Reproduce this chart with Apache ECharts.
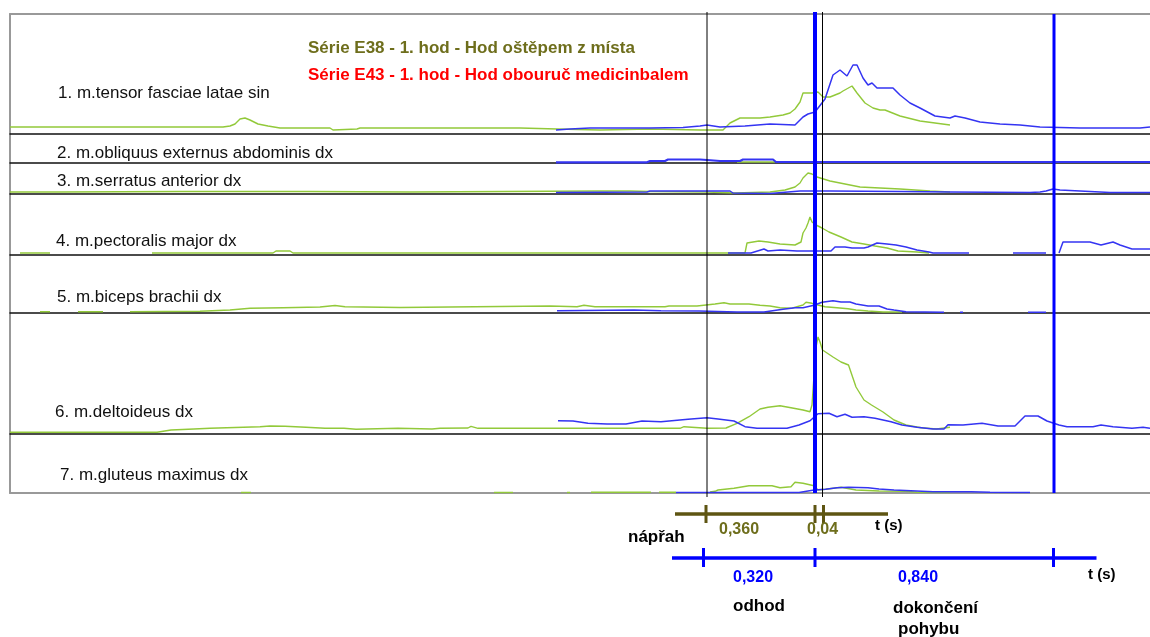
<!DOCTYPE html>
<html>
<head>
<meta charset="utf-8">
<title>EMG - Série E38 / E43</title>
<script src="https://cdn.jsdelivr.net/npm/echarts@6/dist/echarts.min.js"></script>
<style>
  html, body { margin: 0; padding: 0; background: #fff; }
  #graf { width: 1150px; height: 637px; }
</style>
</head>
<body>
<div id="graf"></div>
<script>
// popisky svalů (7 panelů shora dolů)
const svaly = [
  "1. m.tensor fasciae latae sin",
  "2. m.obliquus externus abdominis dx",
  "3. m.serratus anterior dx",
  "4. m.pectoralis major dx",
  "5. m.biceps brachii dx",
  "6. m.deltoideus dx",
  "7. m.gluteus maximus dx"
];

// Série E38 - hod oštěpem z místa (zelená), [vzorek, amplituda]
const e38_1 = [[0,7],[50,7],[100,7],[165,7],[213,7],[220,8],[225,10],[230,15],[235,16],[240,14],[248,10],[258,8],[270,6],[320,6],[323,4],[347,5],[350,6],[440,6],[510,6],[547,5],[590,4],[640,5],[690,4],[713,4],[720,11],[730,16],[750,16],[760,17],[773,19],[780,21],[785,25],[790,32],[793,41],[802,41],[808,42],[813,37],[820,37],[830,41],[833,43],[842,48],[847,41],[855,31],[863,26],[870,24],[875,24],[890,18],[910,13],[925,11],[940,9]];
const e38_2 = [[727,1],[765,1],[766,null],[805,1.3],[860,1.3]];
const e38_3 = [[0,2],[50,2],[170,2.5],[300,2.5],[400,2],[587,3],[620,3],[640,2.5],[697,2],[725,1],[760,2],[775,4],[785,7],[790,11],[793,16],[798,21],[802,20],[807,17],[820,13],[835,10],[850,7],[870,6],[890,5],[905,4],[920,3],[940,2]];
const e38_4 = [[10,2],[40,2],[41,null],[142,2],[263,2],[266,4],[280,4],[283,2],[718,2],[735,2],[737,12],[743,13],[749,14],[758,13],[770,11],[785,10],[791,13],[793,22],[796,27],[798,32],[800,38],[802,33],[806,30],[812,27],[819,23],[831,18],[842,13],[854,11],[865,9],[877,7],[888,4],[907,3],[919,2]];
const e38_5 = [[30,1.3],[40,1.3],[41,null],[68,1.3],[93,1.3],[94,null],[120,1.3],[190,1.7],[220,3],[240,4.7],[273,5.3],[310,6],[325,7.5],[335,6.3],[390,5.5],[540,7],[567,6.3],[574,7.7],[585,6.3],[655,6.3],[659,7],[687,7],[705,9],[714,10.3],[720,9],[739,9],[750,7.7],[760,7],[770,5.3],[781,4.7],[793,8],[796,10.7],[802,9.7],[808,8],[815,6.3],[827,5.3],[838,4.3],[846,3],[858,2],[873,1],[892,1]];
const e38_6 = [[0,1.7],[147,1.7],[149,3.3],[161,4],[184,5],[200,5.7],[250,7.3],[260,8],[275,7.7],[296,6.7],[315,5.7],[334,5.7],[346,4.7],[388,5.7],[422,5],[430,5.7],[458,6],[461,7.7],[468,5.7],[540,5.7],[670,5.7],[674,7.3],[697,5.7],[716,6],[727,10.7],[739,17.3],[750,25],[758,26.7],[770,28.3],[781,26.3],[793,24],[800,22.3],[802,29],[806,87],[808,97],[810,92],[812.5,84],[815.5,82],[823,77],[831,72],[838.5,69],[846,47],[854,34],[861.5,29],[873,22],[884,14],[896,9],[911,6.3],[926.5,5],[940,6.7]];
const e38_7 = [[231,0.5],[241,0.5],[242,null],[484,0.5],[503,0.5],[504,null],[557,0.5],[560,0.5],[561,null],[581,0.8],[641,0.8],[642,null],[649,0.8],[666,0.8],[667,null],[700,1],[705,1.7],[708,3],[724,4.7],[739,7.3],[762,7.3],[770,5.3],[781,6.3],[785,10.7],[793,9.7],[804,7.3],[808,3],[815.5,3.7],[831,5.7],[846,3],[869,2],[896,1.7],[907,0.7],[940,0.5]];

// Série E43 - hod obouruč medicinbalem (modrá)
const e43_1 = [[546,4],[560,5],[580,6],[640,6],[673,6.5],[690,8],[697,9],[710,7],[735,8],[760,10],[785,9],[793,17],[798,20],[805,22],[815,35],[823,59],[830,64],[832,62],[837,58],[843,69],[847,69],[853,56],[858,49],[862,51],[867,46],[876,46],[883,46],[890,39],[900,31],[910,26],[925,18],[940,16],[945,18],[955,16],[970,12],[990,10],[1010,9],[1030,7],[1070,6],[1130,6],[1140,7]];
const e43_2 = [[546,0.7],[637,0.7],[640,2],[655,2],[658,3.5],[690,3.5],[697,3],[710,2],[730,2],[733,3.5],[763,3.5],[766,1],[1140,1]];
const e43_3 = [[546,1.5],[637,2],[640,3],[720,3],[723,1],[760,0.5],[790,3],[820,3],[890,2.5],[940,2],[1020,1.5],[1030,2],[1036,3],[1043,5],[1050,4],[1060,3.5],[1090,2],[1100,1.5],[1140,1.5]];
const e43_4 = [[718,2],[741,2],[743,4],[754,6],[758,4],[770,5],[787,4],[789,6],[804,4],[821,4],[825,8],[835,8],[842,7],[854,7],[858,8],[867,12],[877,11],[886,10],[896,8],[907,5],[919,3],[923,2],[959,2],[960,null],[1003,2],[1036,2],[1037,null],[1049,2],[1053,13],[1080,13],[1091,10],[1103,13],[1110,10],[1122,6],[1140,6]];
const e43_5 = [[547,2.3],[624,3],[651,2.3],[689,2],[727,1],[754,1],[773,3.7],[785,5.3],[793,5.3],[804,7.7],[812,10.7],[823,12.3],[831,11],[840,11],[846,9],[858,7],[869,7],[877,4],[884,3],[896,1.3],[934,0.7],[935,null],[950,0.7],[953,0.7],[954,null],[1018,0.7],[1036,0.7]];
const e43_6 = [[548,13.3],[563,13],[578,10.7],[597,10],[616,10],[632,13],[651,12.3],[678,14.7],[697,16.3],[708,15],[724,13],[735,7.3],[747,5.7],[777,5.7],[789,9],[800,13.3],[808,20.3],[819,20.7],[827,17.3],[835,19.7],[842,16.7],[854,17.3],[865,15.7],[881,12.3],[892,9],[907,6.7],[923,5],[934,5],[938,9.3],[953,9],[972,10.7],[988,8],[1005,8],[1015,18],[1028,18],[1037,13],[1049,9],[1057,7.3],[1083,7.3],[1091,9],[1103,7.3],[1122,5.7],[1133,6.7],[1140,5.7]];
const e43_7 = [[666,0.5],[770,0.5],[789,0.5],[804,3],[815.5,3.7],[827,5.3],[838.5,5.7],[858,5.3],[869,4],[884,3],[923,1.3],[961,1.3],[980,0.7],[1020,0.5]];

// hranice fází (vzorky) - svislé čáry
const hranice_E38 = [697, 812.5];
const hranice_E43 = [805, 1044];

// časové osy pod grafem
const osa_E38 = [665, 878];
const znacky_E38 = [696, 805, 813.5];
const osa_E43 = [662, 1086.5];
const znacky_E43 = [693.5, 805, 1043.5];
const useky_E38 = ["0,360", "0,04"];
const useky_E43 = ["0,320", "0,840"];

const e38 = [e38_1, e38_2, e38_3, e38_4, e38_5, e38_6, e38_7];
const e43 = [e43_1, e43_2, e43_3, e43_4, e43_5, e43_6, e43_7];

// rozložení panelů [top, výška]
const panely = [[14,120],[134,29],[163,31],[194,61],[255,58],[313,121],[434,59]];

const zelena = "#92c93a";
const modra = "#3434f2";
const olivova = "#6e6e1c";
const hneda = "#5e5512";
const PISMO = "Liberation Sans, Arial, sans-serif";

let myChart = echarts.init(document.getElementById("graf"));

let grid = [], xAxis = [], yAxis = [], series = [];
const skryt = { axisTick: { show: false }, axisLabel: { show: false }, splitLine: { show: false } };

panely.forEach((p, i) => {
  grid.push({ left: 10, width: 1140, top: p[0], height: p[1] });
  xAxis.push(Object.assign({
    type: "value", gridIndex: i, min: 0, max: 1140,
    axisLine: { show: true, onZero: false, lineStyle: { color: i == 6 ? "#999" : "#111", width: i == 6 ? 2 : 1.5 } }
  }, skryt));
  yAxis.push(Object.assign({
    type: "value", gridIndex: i, min: 0, max: p[1],
    axisLine: { show: true, lineStyle: { color: "#999", width: 2 } }
  }, skryt));
  series.push({
    type: "line", xAxisIndex: i, yAxisIndex: i, data: e38[i],
    showSymbol: false, z: 3, lineStyle: { color: zelena, width: 1.4 }, itemStyle: { color: zelena }
  });
  series.push({
    type: "line", xAxisIndex: i, yAxisIndex: i, data: e43[i],
    showSymbol: false, z: 4, lineStyle: { color: modra, width: i == 1 ? 2.2 : 1.5 }, itemStyle: { color: modra }
  });
});

// horní okraj rámu
xAxis.push(Object.assign({
  type: "value", gridIndex: 0, position: "top", min: 0, max: 1140,
  axisLine: { show: true, onZero: false, lineStyle: { color: "#999", width: 2 } }
}, skryt));

// překryvná mřížka pro svislé čáry (hodnota = výška nad spodním okrajem)
grid.push({ left: 10, width: 1140, top: 12, height: 485 });
let gx = xAxis.length, gy = yAxis.length;
xAxis.push(Object.assign({ type: "value", gridIndex: 7, min: 0, max: 1140, axisLine: { show: false } }, skryt));
yAxis.push(Object.assign({ type: "value", gridIndex: 7, min: 0, max: 485, axisLine: { show: false } }, skryt));
hranice_E38.forEach(x => {
  series.push({ type: "line", xAxisIndex: gx, yAxisIndex: gy, data: [[x, 0], [x, 485]], showSymbol: false, z: 6,
    lineStyle: { color: "#000", width: 1 } });
});
hranice_E43.forEach((x, k) => {
  series.push({ type: "line", xAxisIndex: gx, yAxisIndex: gy, data: [[x, 4], [x, k == 0 ? 485 : 483]], showSymbol: false, z: 7,
    lineStyle: { color: "#0000ff", width: k == 0 ? 4 : 3 } });
});

// časové osy (hodnota = vzdálenost od horního okraje mřížky)
grid.push({ left: 10, width: 1140, top: 497, height: 140 });
let tx = xAxis.length, ty = yAxis.length;
xAxis.push(Object.assign({ type: "value", gridIndex: 8, min: 0, max: 1140, axisLine: { show: false } }, skryt));
yAxis.push(Object.assign({ type: "value", gridIndex: 8, min: 0, max: 140, inverse: true, axisLine: { show: false } }, skryt));
series.push({ type: "line", xAxisIndex: tx, yAxisIndex: ty, data: osa_E38.map(x => [x, 17]), showSymbol: false,
  lineStyle: { color: hneda, width: 3.5 } });
znacky_E38.forEach(x => {
  series.push({ type: "line", xAxisIndex: tx, yAxisIndex: ty, data: [[x, 8], [x, 26]], showSymbol: false,
    lineStyle: { color: hneda, width: 3 } });
});
series.push({ type: "line", xAxisIndex: tx, yAxisIndex: ty, data: osa_E43.map(x => [x, 61]), showSymbol: false,
  lineStyle: { color: "#0000ff", width: 3.5 } });
znacky_E43.forEach(x => {
  series.push({ type: "line", xAxisIndex: tx, yAxisIndex: ty, data: [[x, 51], [x, 70]], showSymbol: false,
    lineStyle: { color: "#0000ff", width: 3 } });
});

function text(t, x, y, font, fill) {
  return { type: "text", x: x, y: y, z: 100,
    style: { text: t, font: font, fill: fill, verticalAlign: "middle" } };
}

const popiskyXY = [[58,93],[57,153],[57,181],[56,241],[57,297],[55,412],[60,475]];
let graphic = svaly.map((s, i) => text(s, popiskyXY[i][0], popiskyXY[i][1], "17px " + PISMO, "#111"));

graphic.push(text("Série E38 - 1. hod - Hod oštěpem z místa", 308, 48, "bold 17px " + PISMO, olivova));
graphic.push(text("Série E43 - 1. hod - Hod obouruč medicinbalem", 308, 75, "bold 17px " + PISMO, "#ff0000"));

graphic.push(text(useky_E38[0], 719, 530, "bold 16px " + PISMO, olivova));
graphic.push(text(useky_E38[1], 807, 530, "bold 16px " + PISMO, olivova));
graphic.push(text("t (s)", 875, 526, "bold 15px " + PISMO, "#000"));
graphic.push(text("nápřah", 628, 537, "bold 17px " + PISMO, "#000"));
graphic.push(text(useky_E43[0], 733, 578, "bold 16px " + PISMO, "#0000ff"));
graphic.push(text(useky_E43[1], 898, 578, "bold 16px " + PISMO, "#0000ff"));
graphic.push(text("t (s)", 1088, 575, "bold 15px " + PISMO, "#000"));
graphic.push(text("odhod", 733, 606, "bold 17px " + PISMO, "#000"));
graphic.push(text("dokončení", 893, 608, "bold 17px " + PISMO, "#000"));
graphic.push(text("pohybu", 898, 629, "bold 17px " + PISMO, "#000"));

let option = {
  animation: false,
  backgroundColor: "#fff",
  grid: grid,
  xAxis: xAxis,
  yAxis: yAxis,
  series: series,
  graphic: graphic
};

myChart.setOption(option);
</script>
</body>
</html>
